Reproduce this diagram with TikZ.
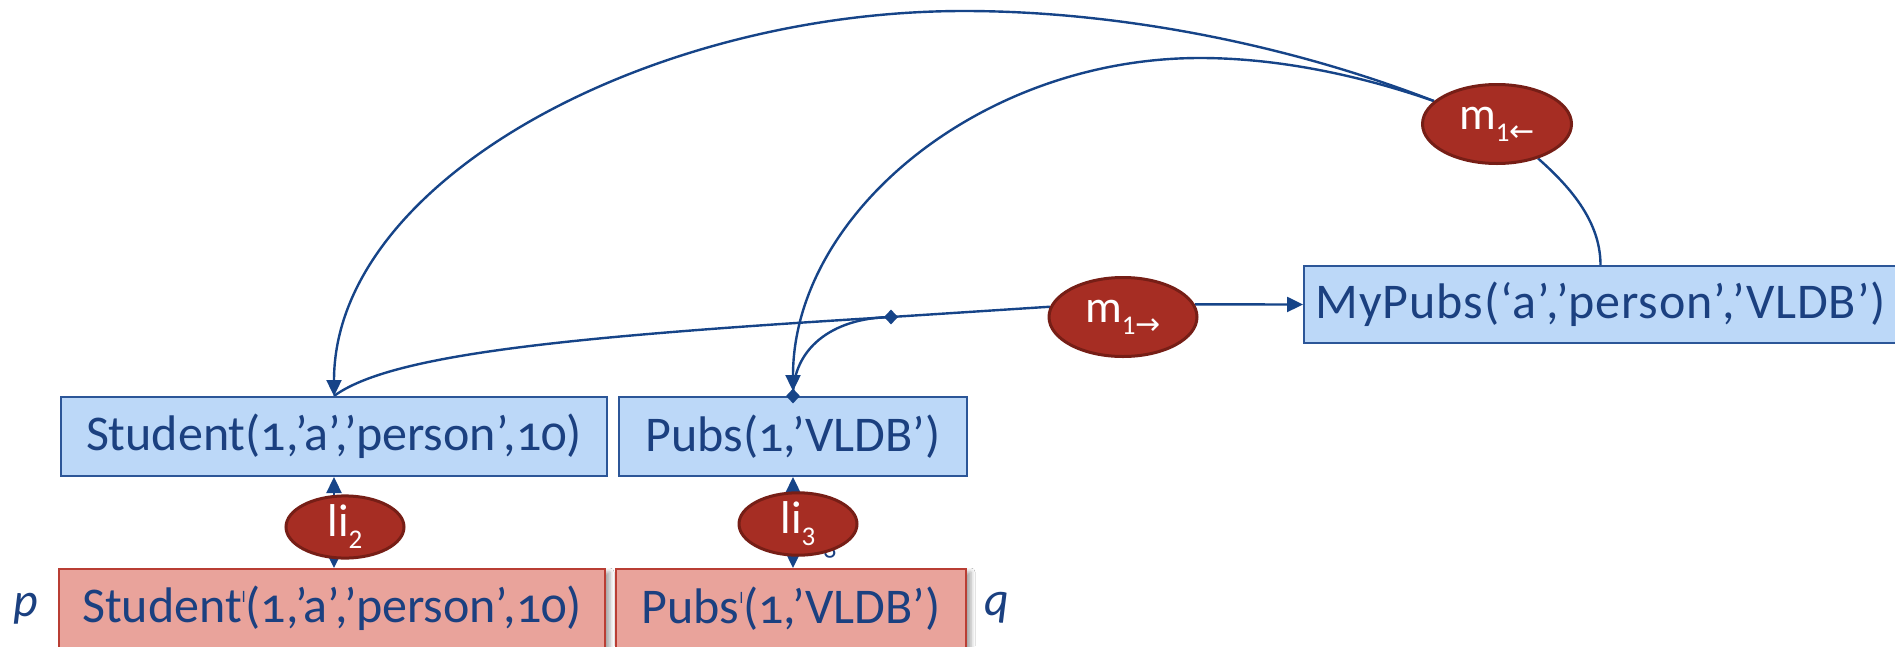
\documentclass[tikz,border=0pt]{standalone}
\usepackage{fontspec}
\setmainfont{Carlito}[Numbers=OldStyle]
\newfontfamily\arrowfont{DejaVu Sans}
\usetikzlibrary{arrows.meta,shapes.geometric,shadows.blur,backgrounds}

\definecolor{ink}{RGB}{27,64,128}
\definecolor{wireblue}{RGB}{22,68,136}
\definecolor{relfill}{RGB}{188,216,248}
\definecolor{reldraw}{RGB}{44,86,152}
\definecolor{srcfill}{RGB}{233,163,155}
\definecolor{srcdraw}{RGB}{185,62,52}
\definecolor{mapfill}{RGB}{166,45,35}
\definecolor{mapdraw}{RGB}{118,30,22}

% small raised "l" for local relations, lowered subscripts for mappings
\newcommand\supl{\raisebox{20pt}{\fontsize{16}{16}\selectfont l}}
\newcommand\lowsub[1]{\raisebox{-12pt}{\fontsize{27}{27}\selectfont\addfontfeatures{Numbers=Lining}#1}}
\newcommand\larr{{\arrowfont\fontsize{30}{30}\selectfont ←}}
\newcommand\rarr{{\arrowfont\fontsize{30}{30}\selectfont →}}

\tikzset{
  rel/.style={rectangle, draw=reldraw, fill=relfill, line width=2pt,
    minimum height=79pt, inner sep=0pt, text=ink,
    font=\fontsize{50}{52}\selectfont},
  srcrel/.style={rel, draw=srcdraw, fill=srcfill,
    blur shadow={shadow xshift=5pt, shadow yshift=-3pt,
      shadow blur radius=4pt, shadow opacity=35}},
  mapnode/.style={ellipse, draw=mapdraw, fill=mapfill, line width=3pt,
    inner sep=0pt, text=white, font=\fontsize{46}{48}\selectfont},
  wire/.style={draw=wireblue, line width=2.4pt},
  tip/.style={-{Triangle[length=16pt,width=15pt]}},
  bothtips/.style={{Triangle[length=16pt,width=15pt]}-{Triangle[length=16pt,width=15pt]}},
  dmark/.style={diamond, fill=wireblue, inner sep=0pt,
    minimum width=14pt, minimum height=15pt},
  varlab/.style={text=ink, font=\fontsize{48}{50}\selectfont\itshape}
}

\begin{document}
\begin{tikzpicture}[x=1pt, y=-1pt]
\useasboundingbox (0,0) rectangle (1895,646);

% relations
\node[rel, minimum width=546pt] (stud) at (334,436.5) {Student(1,’a’,’person’,10)};
\node[rel, minimum width=348pt] (pubs) at (793,436.5) {Pubs(1,’VLDB’)};
\node[rel, minimum width=593pt, minimum height=77pt] (mypubs) at (1600.5,304.5)
  {\addfontfeatures{LetterSpace=1.9}MyPubs(‘a’,’person’,’VLDB’)};
\node[srcrel, minimum width=546pt] (studl) at (332,608.5) {Student\supl(1,’a’,’person’,10)};
\node[srcrel, minimum width=350pt] (pubsl) at (791,608.5) {Pubs\supl(1,’VLDB’)};

\node[varlab] (plab) at (26,609) {p};
\node[varlab] (qlab) at (997,608) {q};

% mappings
\node[mapnode, minimum width=118pt, minimum height=61pt] (li2) at (345,527) {li\lowsub{2}};
\node[text=ink, font=\fontsize{27}{27}\selectfont] (ghost) at (830,550) {3};
\node[mapnode, minimum width=118pt, minimum height=62pt] (li3) at (798,524) {li\lowsub{3}};
\node[mapnode, minimum width=148pt, minimum height=79pt] (m1r) at (1123,317)
  {m\lowsub{1\rarr}};
\node[mapnode, minimum width=149pt, minimum height=79pt] (m1l) at (1497,124)
  {m\lowsub{1\larr}};

\coordinate (otop) at (964,11);
\coordinate (itop) at (1200,58);
\coordinate (junc) at (891,317);

\begin{scope}[on background layer]
  \fill[white] (0,0) rectangle (1895,646);

  % local-to-global links
  \draw[wire, bothtips] (stud.south) -- (stud.south |- studl.north);
  \draw[wire, bothtips] (pubs.south) -- (pubs.south |- pubsl.north);

  % m1 backward: MyPubs back to Student and Pubs
  \draw[wire] (mypubs.north) .. controls (1600.5,220) and (1568,185) .. (m1l.-40);
  \draw[wire, tip] (m1l.160) .. controls (1290,45) and (1120,11) .. (otop)
    .. controls (650,11) and (334,180) .. (stud.north);
  \draw[wire, tip, shorten >=5pt] (m1l.160) .. controls (1350,72) and (1270,58) .. (itop)
    .. controls (980,58) and (793,215) .. (pubs.north);

  % m1 forward: Student and Pubs into MyPubs
  \draw[wire] (m1r.172) -- (junc) .. controls (560,337) and (390,355) .. (stud.north);
  \draw[wire] (junc) .. controls (830,318) and (793,350) .. (pubs.north);
  \draw[wire, tip] (m1r.10) -- (mypubs.west);
\end{scope}

\node[dmark] (jmark) at (junc) {};
\node[dmark] (pmark) at (pubs.north) {};
\end{tikzpicture}
\end{document}
